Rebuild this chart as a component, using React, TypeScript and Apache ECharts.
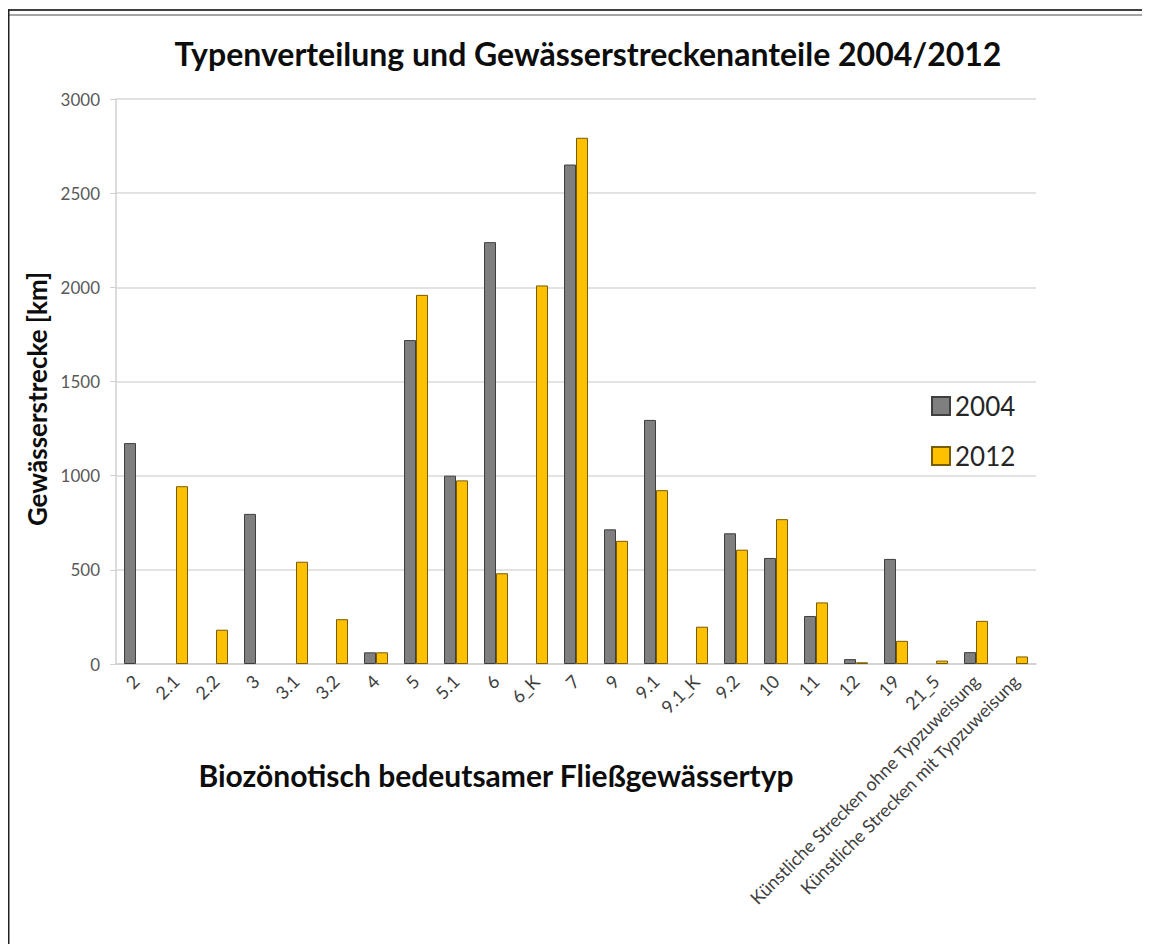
import React, { useEffect, useRef } from "react";
import * as echarts from "echarts";

const categories = [
  "2", "2.1", "2.2", "3", "3.1", "3.2", "4", "5", "5.1", "6", "6_K", "7", "9", "9.1", "9.1_K",
  "9.2", "10", "11", "12", "19", "21_5",
  "Künstliche Strecken ohne Typzuweisung", "Künstliche Strecken mit Typzuweisung",
];
const values2004 = [1173, null, null, 797, null, null, 62, 1720, 1000, 2240, null, 2652, 715, 1296, null, 694, 563, 255, 26, 558, null, 63, null];
const values2012 = [null, 944, 182, null, 543, 238, 62, 1960, 975, 482, 2010, 2794, 654, 923, 198, 607, 769, 327, 9, 123, 18, 229, 40];
const yTicks = [0, 500, 1000, 1500, 2000, 2500, 3000];

const FONT = "Lato, 'Open Sans', sans-serif";

export default function App() {
  const ref = useRef<HTMLDivElement>(null);
  useEffect(() => {
    if (!ref.current) return;
    const chart = echarts.init(ref.current, undefined, { renderer: "svg" });
    chart.setOption({
      animation: false,
      backgroundColor: "#ffffff",
      textStyle: { fontFamily: FONT },
      grid: { left: 108, width: 920, top: 91, height: 565 },
      legend: {
        orient: "vertical",
        left: 918,
        top: 380,
        itemWidth: 18,
        itemHeight: 18,
        itemGap: 24,
        icon: "rect",
        textStyle: { fontSize: 26, color: "#262626", fontFamily: FONT },
        data: ["2004", "2012"],
      },
      xAxis: {
        type: "category",
        data: categories,
        axisLine: { show: true, lineStyle: { color: "#d0d0d0", width: 1.5 } },
        axisTick: { show: false },
        axisLabel: {
          rotate: 45,
          interval: 0,
          fontSize: 18,
          color: "#404040",
          fontFamily: FONT,
          margin: 14,
        },
      },
      yAxis: {
        type: "value",
        min: yTicks[0],
        max: yTicks[yTicks.length - 1],
        interval: 500,
        axisLine: { show: true, lineStyle: { color: "#d0d0d0", width: 1.5 } },
        axisTick: { show: true, inside: false, length: 6, lineStyle: { color: "#d0d0d0" } },
        splitLine: { show: true, lineStyle: { color: "#d9d9d9", width: 1.5 } },
        axisLabel: {
          fontSize: 17,
          color: "#595959",
          fontFamily: FONT,
          margin: 16,
          formatter: (v: number) => String(v),
        },
      },
      series: [
        {
          name: "2004",
          type: "bar",
          data: values2004,
          barWidth: 12,
          barGap: "0%",
          itemStyle: { color: "#7f7f7f", borderColor: "#3f3f3f", borderWidth: 1 },
        },
        {
          name: "2012",
          type: "bar",
          data: values2012,
          barWidth: 12,
          barGap: "0%",
          itemStyle: { color: "#ffc000", borderColor: "#7a5c00", borderWidth: 1 },
        },
      ],
      graphic: [
        { type: "rect", shape: { x: 0, y: 1, width: 1142, height: 2 }, style: { fill: "#404040" }, silent: true },
        { type: "rect", shape: { x: 0, y: 6, width: 1142, height: 2 }, style: { fill: "#a6a6a6" }, silent: true },
        { type: "rect", shape: { x: 0, y: 1, width: 1.5, height: 935 }, style: { fill: "#202020" }, silent: true },
        {
          type: "text",
          x: 580,
          y: 45,
          style: {
            text: "Typenverteilung und Gewässerstreckenanteile 2004/2012",
            font: `bold 32px ${FONT}`,
            fill: "#0d0d0d",
            textAlign: "center",
            textVerticalAlign: "middle",
          },
        },
        {
          type: "text",
          x: 29,
          y: 391,
          rotation: Math.PI / 2,
          style: {
            text: "Gewässerstrecke [km]",
            font: `bold 26px ${FONT}`,
            fill: "#0d0d0d",
            textAlign: "center",
            textVerticalAlign: "middle",
          },
        },
        {
          type: "text",
          x: 488,
          y: 767,
          style: {
            text: "Biozönotisch bedeutsamer Fließgewässertyp",
            font: `bold 30px ${FONT}`,
            fill: "#0d0d0d",
            textAlign: "center",
            textVerticalAlign: "middle",
          },
        },
      ],
    });
    return () => chart.dispose();
  }, []);
  return <div ref={ref} style={{ width: 1142, height: 936 }} />;
}
